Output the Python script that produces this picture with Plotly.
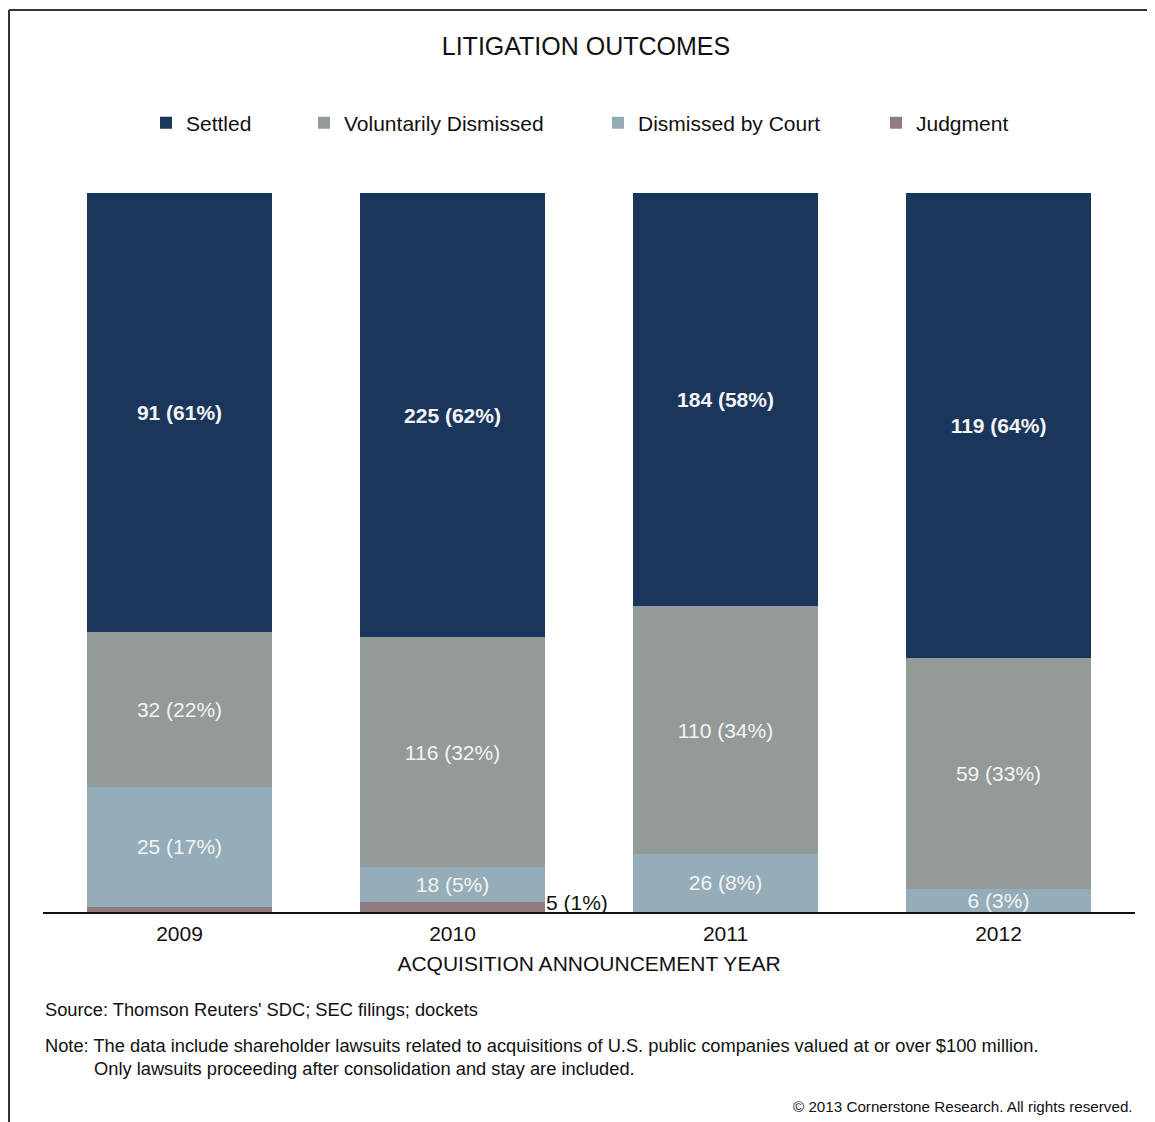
import plotly.graph_objects as go

years = ["2009", "2010", "2011", "2012"]
series_names = ["Settled", "Voluntarily Dismissed", "Dismissed by Court", "Judgment"]
settled_n = [91, 225, 184, 119]
settled_pct = [61, 62, 58, 64]
voluntary_n = [32, 116, 110, 59]
voluntary_pct = [22, 32, 34, 33]
court_n = [25, 18, 26, 6]
court_pct = [17, 5, 8, 3]
judgment_n = [1, 5, 0, 0]
judgment_pct = [1, 1, 0, 0]
judgment_label_years = ["2010"]

colors = ["#1b365d", "#939a98", "#95adb8", "#917b80"]

# page has an 8px body margin; work in reference-pixel coordinates and shift
OFF = 8
W, H = 1155 - OFF, 1122 - OFF
L, R, T, B = 43 - OFF, 20, 193 - OFF, 1122 - 912
pw, ph = W - L - R, H - T - B


def px_x(px):
    return (px - OFF - L) / pw


def px_y(py):
    return (H - B - (py - OFF)) / ph


FONT = "Liberation Sans, Arial, sans-serif"

fig = go.Figure()
series = [
    (settled_n, settled_pct, "bold"),
    (voluntary_n, voluntary_pct, "normal"),
    (court_n, court_pct, "normal"),
    (judgment_n, judgment_pct, None),
]
legend_ids = ["legend", "legend2", "legend3", "legend4"]
# add bottom-most (Judgment) first so Settled stacks on top
for i in reversed(range(4)):
    name, (n, p, weight), col = series_names[i], series[i], colors[i]
    if weight is None:
        labels = ["" for _ in n]
    else:
        labels = [f"{a} ({b}%)" for a, b in zip(n, p)]
    fig.add_trace(go.Bar(
        x=years, y=n, name=name, marker=dict(color=col, line=dict(width=0)),
        text=labels, texttemplate="%{text}", textposition="inside",
        insidetextanchor="middle",
        textfont=dict(family=FONT, size=21, color="#f4f4f4", weight=weight or "normal"),
        legend=legend_ids[i], hoverinfo="skip",
    ))

# outside label for judgment in 2010 (x given as category index)
for yr in judgment_label_years:
    k = years.index(yr)
    total = settled_n[k] + voluntary_n[k] + court_n[k] + judgment_n[k]
    fig.add_annotation(
        x=k, y=judgment_n[k] / total * 100,
        xref="x", yref="y", xanchor="left", yanchor="middle", xshift=91,
        text=f"{judgment_n[k]} ({judgment_pct[k]}%)", showarrow=False,
        font=dict(family=FONT, size=21, color="#111111"),
    )

symbol_centers = [166, 324, 618, 896]
layout_legends = {}
for lid, sc in zip(legend_ids, symbol_centers):
    layout_legends[lid] = dict(
        x=px_x(sc - 20), y=px_y(123), xanchor="left", yanchor="middle",
        orientation="h", font=dict(family=FONT, size=21, color="#111111"),
        bgcolor="rgba(0,0,0,0)", borderwidth=0, itemwidth=30,
    )

fig.update_layout(
    width=W, height=H, barmode="stack", barnorm="percent", bargap=0.325,
    margin=dict(l=L, r=R, t=T, b=B),
    paper_bgcolor="white", plot_bgcolor="white",
    showlegend=True,
    uniformtext=dict(mode="show", minsize=21),
    title=dict(text="LITIGATION OUTCOMES", x=px_x(586), xref="paper", xanchor="center",
               y=1 - (46 - OFF) / H, yref="container", yanchor="middle",
               font=dict(family=FONT, size=25, color="#111111")),
    xaxis=dict(type="category", range=[-0.5, 3.5], showline=True, linecolor="#111111",
               linewidth=2, ticks="", showgrid=False, zeroline=False,
               ticklabelstandoff=2,
               tickfont=dict(family=FONT, size=21, color="#111111"),
               title=dict(text="ACQUISITION ANNOUNCEMENT YEAR", standoff=12,
                          font=dict(family=FONT, size=21, color="#111111"))),
    yaxis=dict(range=[0, 100], visible=False, showgrid=False, zeroline=False),
    **layout_legends,
)

notes = [
    ("Source: Thomson Reuters' SDC; SEC filings; dockets", 43, 1009, "left", 18.3),
    ("Note: The data include shareholder lawsuits related to acquisitions of U.S. public companies valued at or over $100 million.", 43, 1045, "left", 18.3),
    ("Only lawsuits proceeding after consolidation and stay are included.", 92, 1068, "left", 18.3),
    ("© 2013 Cornerstone Research. All rights reserved.", 1135, 1106, "right", 15.2),
]
for txt, xpx, ypx, anc, sz in notes:
    fig.add_annotation(text=txt, x=px_x(xpx), y=px_y(ypx), xref="paper", yref="paper",
                       xanchor=anc, yanchor="middle", showarrow=False,
                       font=dict(family=FONT, size=sz, color="#111111"))

# frame
fig.add_shape(type="line", xref="paper", yref="paper", x0=px_x(9), x1=px_x(9),
              y0=px_y(10), y1=px_y(1122 + 5), line=dict(color="#333333", width=2))
fig.add_shape(type="line", xref="paper", yref="paper", x0=px_x(9), x1=px_x(1155 + 5),
              y0=px_y(10), y1=px_y(10), line=dict(color="#333333", width=2))

fig.write_html("out.html")
